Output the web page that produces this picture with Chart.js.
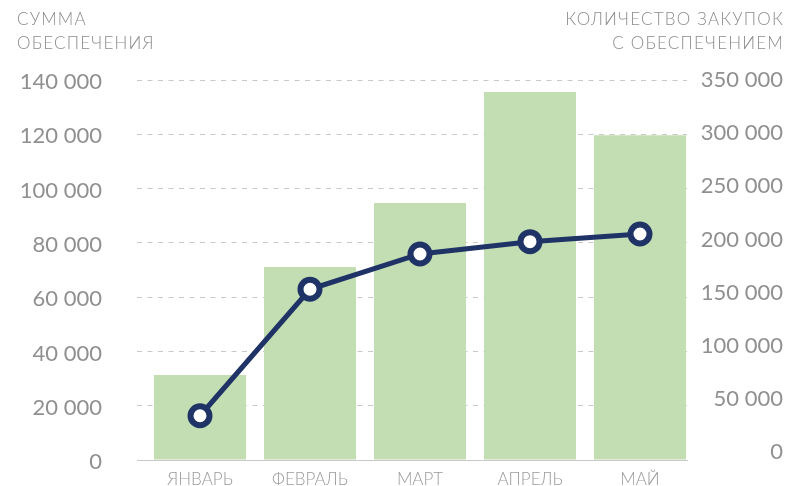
<!DOCTYPE html>
<html>
<head>
<meta charset="utf-8">
<script src="https://cdn.jsdelivr.net/npm/chart.js@4.4.1/dist/chart.umd.min.js"></script>
<style>
  html, body { margin: 0; padding: 0; background: #ffffff; }
  #wrap { width: 785px; height: 486px; position: relative; }
</style>
</head>
<body>
<div id="wrap"><canvas id="c" width="785" height="486"></canvas></div>
<script>
// ---- data ----
const categories = ['ЯНВАРЬ', 'ФЕВРАЛЬ', 'МАРТ', 'АПРЕЛЬ', 'МАЙ'];
const sumValues = [31300, 71100, 94700, 135600, 119600];      // bars, left axis
const countValues = [34100, 153100, 186300, 197900, 205100];  // line, right axis
const leftTicks = [0, 20000, 40000, 60000, 80000, 100000, 120000, 140000];
const rightTicks = [0, 50000, 100000, 150000, 200000, 250000, 300000, 350000];
const leftTitle = ['СУММА', 'ОБЕСПЕЧЕНИЯ'];
const rightTitle = ['КОЛИЧЕСТВО ЗАКУПОК', 'С ОБЕСПЕЧЕНИЕМ'];

const fmt = v => String(v).replace(/\B(?=(\d{3})+(?!\d))/g, ' ');
const FONT = 'Lato, "Open Sans", sans-serif';
const TXT = '#909090';

const titlesPlugin = {
  id: 'cornerTitles',
  afterDraw(chart) {
    const ctx = chart.ctx;
    ctx.save();
    ctx.font = '300 17px ' + FONT;
    ctx.fillStyle = '#8c8c8c';
    ctx.textBaseline = 'alphabetic';
    try { ctx.letterSpacing = '1.2px'; } catch (e) {}
    ctx.textAlign = 'left';
    ctx.fillText(leftTitle[0], 17, 25);
    ctx.fillText(leftTitle[1], 17, 49);
    ctx.textAlign = 'right';
    ctx.fillText(rightTitle[0], 784, 25);
    ctx.fillText(rightTitle[1], 784, 49);
    ctx.restore();
  }
};

new Chart(document.getElementById('c'), {
  data: {
    datasets: [
      {
        type: 'line',
        order: 0,
        yAxisID: 'y2',
        data: countValues.map((v, i) => ({ x: i, y: v })),
        borderColor: '#1f3366',
        borderWidth: 5,
        tension: 0,
        pointRadius: 9.5,
        pointBorderWidth: 6,
        pointBackgroundColor: '#ffffff',
        pointBorderColor: '#1f3366',
        fill: false
      },
      {
        type: 'bar',
        order: 1,
        yAxisID: 'y',
        data: sumValues.map((v, i) => ({ x: i, y: v })),
        backgroundColor: '#c3deb3',
        borderWidth: 0,
        barPercentage: 0.836,
        categoryPercentage: 1.0
      }
    ]
  },
  options: {
    responsive: false,
    animation: false,
    events: [],
    layout: { padding: { top: 80, left: 0, right: 2, bottom: 0 } },
    plugins: { legend: { display: false }, tooltip: { enabled: false }, title: { display: false } },
    scales: {
      x: {
        type: 'linear',
        min: -0.5727,
        max: 4.4273,
        offset: false,
        afterBuildTicks(scale) { scale.ticks = categories.map((c, i) => ({ value: i })); },
        afterFit(scale) { scale.height = 26; },
        ticks: {
          callback: (v) => categories[v] !== undefined ? categories[v] : '',
          font: { family: FONT, size: 17, weight: 300 },
          color: '#9a9a9a',
          padding: 9,
          maxRotation: 0,
          autoSkip: false
        },
        grid: { display: false, drawTicks: false },
        border: { display: true, color: '#c8c8c8', width: 1 }
      },
      y: {
        type: 'linear',
        position: 'left',
        min: 0,
        max: 140000,
        afterBuildTicks(scale) { scale.ticks = leftTicks.map(v => ({ value: v })); },
        afterFit(scale) { scale.width = 137; },
        ticks: {
          callback: v => fmt(v),
          font: { family: FONT, size: 22, weight: 400 },
          color: TXT,
          padding: 0,
          labelOffset: 2
        },
        grid: { display: true, drawTicks: true, tickLength: 35, tickColor: 'rgba(0,0,0,0)', color: '#c8c8c8', lineWidth: 1 },
        border: { display: false, dash: [5, 5.5] }
      },
      y2: {
        type: 'linear',
        position: 'right',
        min: -7527,
        max: 350000,
        afterBuildTicks(scale) { scale.ticks = rightTicks.map(v => ({ value: v })); },
        afterFit(scale) { scale.width = 96; },
        ticks: {
          callback: v => fmt(v),
          font: { family: FONT, size: 22, weight: 400 },
          color: TXT,
          crossAlign: 'far',
          padding: 0
        },
        grid: { display: false, drawTicks: false },
        border: { display: false }
      }
    }
  },
  plugins: [titlesPlugin]
});
</script>
</body>
</html>
